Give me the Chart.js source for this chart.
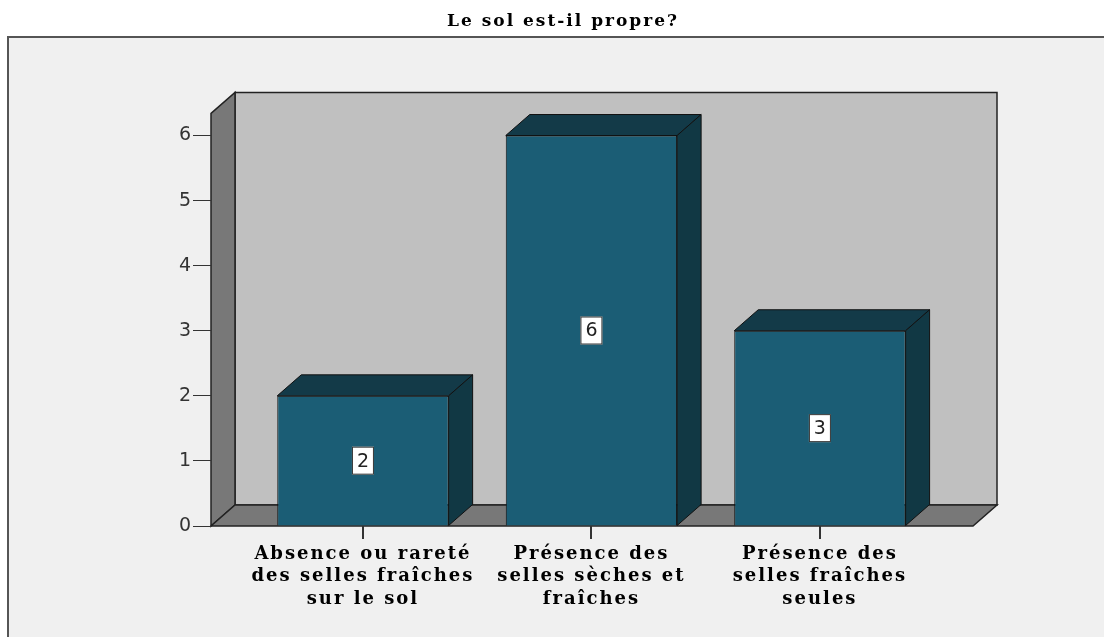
<!DOCTYPE html>
<html>
<head>
<meta charset="utf-8">
<script src="https://cdn.jsdelivr.net/npm/chart.js"></script>
<style>
  html, body { margin: 0; padding: 0; background: #fff; }
</style>
</head>
<body>
<canvas id="chart" width="1104" height="637"></canvas>
<script>
const chartTitle = 'Le sol est-il propre?';
const categories = [
  ['Absence ou rareté', 'des selles fraîches', 'sur le sol'],
  ['Présence des', 'selles sèches et', 'fraîches'],
  ['Présence des', 'selles fraîches', 'seules']
];
const counts = [2, 6, 3];
const yMax = 6.34;

// depth of the fake 3d box
const DX = 24, DY = 21;

function poly(ctx, pts, fill, stroke) {
  ctx.beginPath();
  ctx.moveTo(pts[0][0], pts[0][1]);
  for (let i = 1; i < pts.length; i++) ctx.lineTo(pts[i][0], pts[i][1]);
  ctx.closePath();
  ctx.fillStyle = fill;
  ctx.fill();
  ctx.strokeStyle = stroke;
  ctx.stroke();
}

const box3d = {
  id: 'box3d',
  beforeDraw(chart) {
    const { ctx, chartArea: a } = chart;
    ctx.save();
    // outer frame
    ctx.fillStyle = '#f0f0f0';
    ctx.fillRect(8, 37, chart.width, chart.height);
    ctx.strokeStyle = '#555';
    ctx.lineWidth = 2;
    ctx.strokeRect(8, 37, chart.width + 20, chart.height + 20);

    ctx.lineWidth = 1.5;
    // back wall
    poly(ctx, [[a.left + DX, a.top - DY], [a.right + DX, a.top - DY],
      [a.right + DX, a.bottom - DY], [a.left + DX, a.bottom - DY]], '#c0c0c0', '#222');
    // left wall
    poly(ctx, [[a.left, a.bottom], [a.left, a.top], [a.left + DX, a.top - DY],
      [a.left + DX, a.bottom - DY]], '#787878', '#222');
    // floor
    poly(ctx, [[a.left, a.bottom], [a.right, a.bottom], [a.right + DX, a.bottom - DY],
      [a.left + DX, a.bottom - DY]], '#787878', '#222');
    ctx.restore();
    // the spss text is drawn wide, spread the letters a bit
    ctx.letterSpacing = '2px';
  },
  afterDatasetsDraw(chart) {
    const { ctx } = chart;
    const meta = chart.getDatasetMeta(0);
    ctx.save();
    ctx.lineWidth = 1;
    meta.data.forEach((bar, i) => {
      const { x, y, base, width } = bar.getProps(['x', 'y', 'base', 'width'], true);
      const l = x - width / 2, r = x + width / 2;
      poly(ctx, [[l, y], [l + DX, y - DY], [r + DX, y - DY], [r, y]], '#133a48', '#111');
      poly(ctx, [[r, y], [r + DX, y - DY], [r + DX, base - DY], [r, base]], '#113844', '#111');

      // value box
      const cy = (y + base) / 2;
      ctx.fillStyle = '#fff';
      ctx.fillRect(x - 11, cy - 14, 22, 28);
      ctx.strokeStyle = '#333';
      ctx.strokeRect(x - 10.5, cy - 13.5, 21, 27);
      ctx.fillStyle = '#222';
      ctx.font = '19px "DejaVu Sans"';
      ctx.letterSpacing = '0px';
      ctx.textAlign = 'center';
      ctx.textBaseline = 'middle';
      ctx.fillText(String(counts[i]), x, cy + 1);
    });
    ctx.restore();
  }
};

new Chart(document.getElementById('chart'), {
  type: 'bar',
  data: {
    datasets: [{
      data: counts.map((v, i) => ({ x: i, y: v })),
      backgroundColor: '#1b5d75',
      borderColor: '#111',
      borderWidth: 1,
      barPercentage: 0.75,
      categoryPercentage: 1
    }]
  },
  options: {
    responsive: false,
    animation: false,
    layout: { padding: { left: 153, right: 131, top: 0, bottom: 0 } },
    plugins: {
      legend: { display: false },
      tooltip: { enabled: false },
      title: {
        display: true,
        text: chartTitle,
        color: '#000',
        font: { family: '"DejaVu Serif"', size: 17, weight: 'bold' },
        padding: { top: 11, bottom: 82 }
      }
    },
    scales: {
      x: {
        type: 'linear',
        offset: false,
        min: -0.665,
        max: 2.67,
        afterBuildTicks: s => { s.ticks = categories.map((c, i) => ({ value: i })); },
        afterFit: s => { s.height = 111; },
        grid: { drawOnChartArea: false, offset: false, color: '#333', tickLength: 13, lineWidth: 2 },
        border: { display: false },
        ticks: {
          padding: 4,
          color: '#000',
          maxRotation: 0,
          autoSkip: false,
          font: { family: '"DejaVu Serif"', size: 18, weight: 'bold', lineHeight: 1.25 },
          callback: v => categories[v]
        }
      },
      y: {
        min: 0,
        max: yMax,
        afterFit: s => { s.width = 58; },
        grid: { drawOnChartArea: false, color: '#333', tickLength: 18 },
        border: { display: false },
        ticks: {
          stepSize: 1,
          includeBounds: false,
          padding: 0,
          color: '#333',
          font: { family: '"DejaVu Sans"', size: 19 }
        }
      }
    }
  },
  plugins: [box3d]
});
</script>
</body>
</html>
